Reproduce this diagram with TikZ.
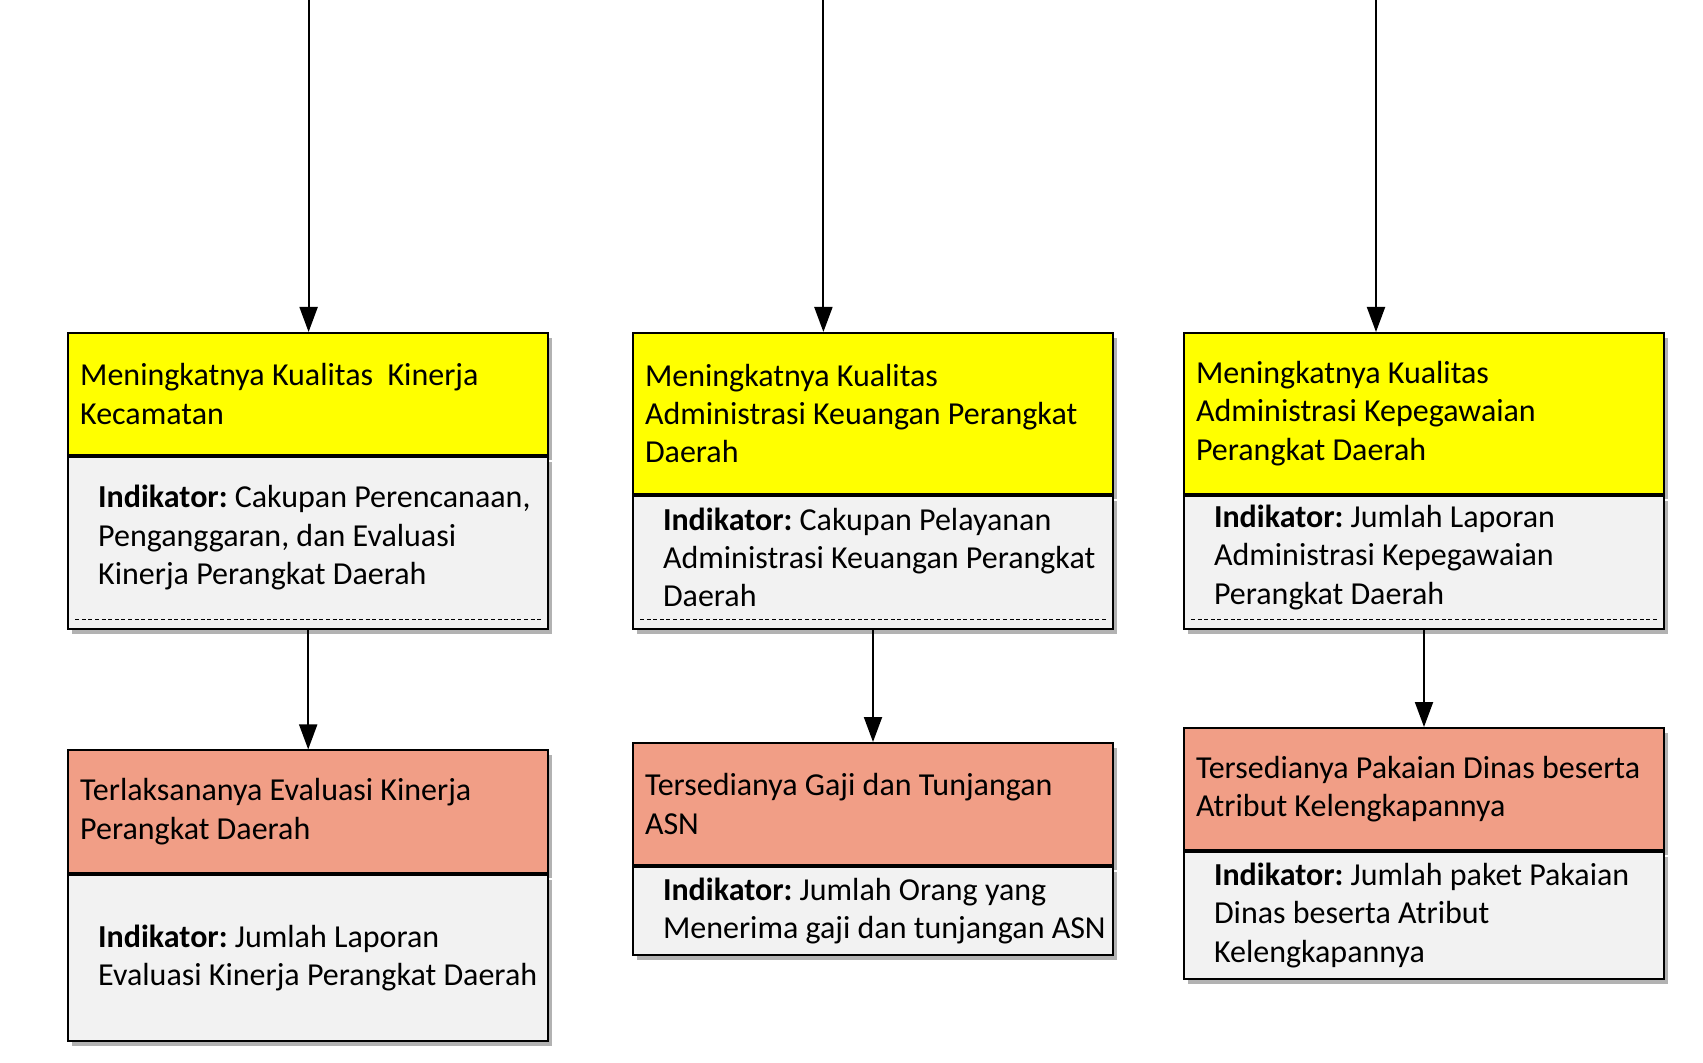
\documentclass[tikz,border=0pt]{standalone}
\usepackage{fontspec}
\setmainfont{Carlito}
\usetikzlibrary{positioning,shadows,arrows.meta}

\definecolor{sasaranyellow}{HTML}{FFFF00}
\definecolor{outputsalmon}{HTML}{F19E86}
\definecolor{indikatorgrey}{HTML}{F2F2F2}

\tikzset{
  kotak/.style={draw, line width=1pt, align=left, inner ysep=0pt, inner xsep=0.5pt,
    text width=239pt, font=\fontsize{16}{19.2}\selectfont\frenchspacing,
    drop shadow={shadow xshift=2pt, shadow yshift=-2.5pt, fill=black, opacity=0.3}},
  judul/.style={kotak, execute at begin node={\leftskip=5.5pt\spaceskip=0pt\xspaceskip=0pt\relax}},
  indikator/.style={kotak, fill=indikatorgrey, execute at begin node={\leftskip=14.5pt\spaceskip=0pt\xspaceskip=0pt\relax}},
  indatas/.style={indikator, execute at end node={\par\vspace*{5pt}}},
  garisputus/.style={line width=0.5pt, dash pattern=on 2pt off 1.3pt},
  panah/.style={line width=1pt, -{Triangle[length=12.5pt,width=9pt]}}
}

\begin{document}
\begin{tikzpicture}[x=1pt,y=1pt]
\useasboundingbox (0,0) rectangle (851.5,-531.5);

% Sasaran
\node[judul, fill=sasaranyellow, minimum height=61pt, anchor=north west] (sasaran-a) at (33.6,-166)
  {Meningkatnya Kualitas\ \ Kinerja\\Kecamatan};
\node[indatas, minimum height=85.8pt, below=0pt of sasaran-a] (ind-sasaran-a)
  {\textbf{Indikator:} Cakupan Perencanaan,\\Penganggaran, dan Evaluasi\\Kinerja Perangkat Daerah};

\node[judul, fill=sasaranyellow, minimum height=80.5pt, anchor=north west] (sasaran-b) at (316,-166)
  {Meningkatnya Kualitas\\Administrasi Keuangan Perangkat\\Daerah};
\node[indatas, minimum height=66.3pt, below=0pt of sasaran-b] (ind-sasaran-b)
  {\textbf{Indikator:} Cakupan Pelayanan\\Administrasi Keuangan Perangkat\\Daerah};

\node[judul, fill=sasaranyellow, minimum height=80.5pt, anchor=north west] (sasaran-c) at (591.5,-166)
  {Meningkatnya Kualitas\\Administrasi Kepegawaian\\Perangkat Daerah};
\node[indatas, minimum height=66.3pt, below=0pt of sasaran-c] (ind-sasaran-c)
  {\textbf{Indikator:} Jumlah Laporan\\Administrasi Kepegawaian\\Perangkat Daerah};

% Garis putus di bawah indikator
\draw[garisputus] ([xshift=4pt,yshift=4.8pt]ind-sasaran-a.south west) -- ([xshift=-4pt,yshift=4.8pt]ind-sasaran-a.south east);
\draw[garisputus] ([xshift=4pt,yshift=4.8pt]ind-sasaran-b.south west) -- ([xshift=-4pt,yshift=4.8pt]ind-sasaran-b.south east);
\draw[garisputus] ([xshift=4pt,yshift=4.8pt]ind-sasaran-c.south west) -- ([xshift=-4pt,yshift=4.8pt]ind-sasaran-c.south east);

% Output
\node[judul, fill=outputsalmon, minimum height=61.3pt, anchor=north west] (output-a) at (33.6,-374.7)
  {Terlaksananya Evaluasi Kinerja\\Perangkat Daerah};
\node[indikator, minimum height=83pt, below=0pt of output-a] (ind-output-a)
  {\textbf{Indikator:} Jumlah Laporan\\Evaluasi Kinerja Perangkat Daerah};

\node[judul, fill=outputsalmon, minimum height=61pt, anchor=north west] (output-b) at (316,-371)
  {Tersedianya Gaji dan Tunjangan\\ASN};
\node[indikator, minimum height=44pt, below=0pt of output-b] (ind-output-b)
  {\textbf{Indikator:} Jumlah Orang yang\\Menerima gaji dan tunjangan ASN};

\node[judul, fill=outputsalmon, minimum height=61pt, anchor=north west] (output-c) at (591.5,-363.5)
  {Tersedianya Pakaian Dinas beserta\\Atribut Kelengkapannya};
\node[indikator, minimum height=63.5pt, below=0pt of output-c] (ind-output-c)
  {\textbf{Indikator:} Jumlah paket Pakaian\\Dinas beserta Atribut\\Kelengkapannya};

% Panah dari atas
\coordinate (atas-a) at (154.3,0);
\coordinate (atas-b) at (411.7,0);
\coordinate (atas-c) at (688,0);
\draw[panah] (atas-a) -- (atas-a |- sasaran-a.north);
\draw[panah] (atas-b) -- (atas-b |- sasaran-b.north);
\draw[panah] (atas-c) -- (atas-c |- sasaran-c.north);

% Panah sasaran ke output
\draw[panah] (ind-sasaran-a) -- (output-a);
\draw[panah] (ind-sasaran-b) -- (output-b);
\draw[panah] (ind-sasaran-c) -- (output-c);

\end{tikzpicture}
\end{document}
